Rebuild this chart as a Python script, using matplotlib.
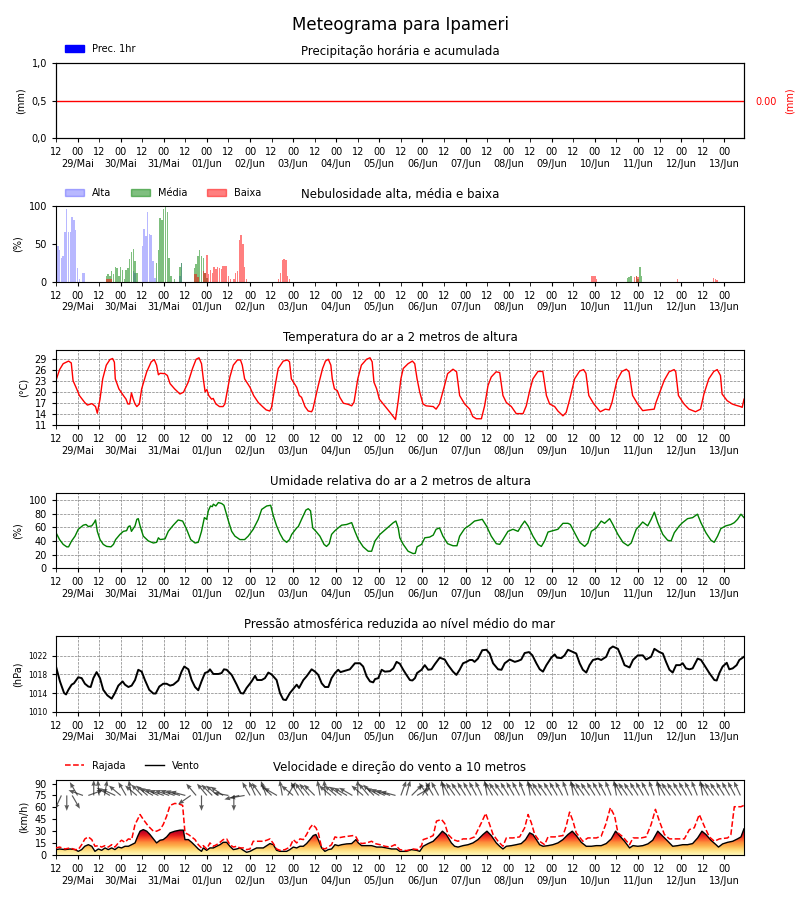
import numpy as np
import matplotlib.pyplot as plt
from matplotlib.patches import Patch
from matplotlib.lines import Line2D

# x axis is hours since 28/Mai 12 UTC (hourly model output, 384 steps)
hours = np.arange(384)
day_labels = ['29/Mai', '30/Mai', '31/Mai', '01/Jun', '02/Jun', '03/Jun', '04/Jun', '05/Jun',
              '06/Jun', '07/Jun', '08/Jun', '09/Jun', '10/Jun', '11/Jun', '12/Jun', '13/Jun']
tick_00 = [12 + 24 * i for i in range(16)]
tick_12 = [24 * i for i in range(16)]

# precipitation (no rain in the period)
prec_1h = np.zeros(len(hours))

# cloud cover (%)
alta_h = [1, 2, 3, 4, 5, 6, 7, 8, 9, 10, 11, 12, 13, 15, 16, 43, 44,
          48, 49, 50, 51, 52, 53, 54, 55, 69, 70]
alta_v = [47, 42, 31, 34, 66, 97, 66, 66, 86, 82, 69, 18, 4, 12, 11, 14, 12,
          47, 70, 60, 93, 63, 62, 28, 5, 8, 25]
media_h = [28, 29, 30, 31, 32, 33, 34, 35, 36, 37, 38, 39, 40, 41, 42, 43, 44, 45,
           56, 57, 58, 59, 60, 61, 62, 63, 64, 66, 69, 70,
           77, 78, 79, 80, 81, 82, 83, 84, 318, 319, 320, 323, 324, 325, 326]
media_v = [7, 10, 7, 14, 10, 20, 18, 7, 20, 15, 3, 16, 18, 30, 40, 44, 27, 12,
           25, 42, 84, 82, 97, 99, 93, 31, 7, 4, 20, 25,
           18, 23, 34, 42, 34, 31, 11, 5, 5, 6, 7, 7, 4, 20, 7]
baixa_h = [28, 29, 30, 31, 77, 78, 79, 82, 83, 84, 85, 86, 87, 88, 89, 90, 91, 92, 93, 94, 95,
           96, 97, 99, 100, 101, 102, 103, 104, 105, 106, 124, 125, 126, 127, 128, 129, 130,
           298, 299, 300, 301, 322, 323, 324, 346, 366, 367, 368]
baixa_v = [4, 4, 3, 4, 10, 10, 6, 14, 12, 36, 10, 16, 12, 20, 17, 20, 18, 17, 21, 21, 21,
           7, 3, 3, 11, 14, 55, 62, 50, 20, 3, 4, 11, 29, 30, 29, 7, 3,
           7, 8, 8, 3, 6, 7, 6, 3, 5, 4, 2]

# temperature (C)
temp_h = [0, 2, 4, 7, 8.5, 9.5, 11.5, 13, 16, 17.5, 20, 22, 23, 24.5, 26, 28, 30, 31.5, 32.5, 33,
          35, 37.5, 39, 40, 41, 42, 43, 44, 45, 46.4, 47.7, 50.5, 53, 54.7, 56, 57, 58, 60.6, 62,
          63.5, 66, 69, 71, 73.6, 76, 78, 79.6, 81, 82, 83, 84, 85, 86.6, 87.5, 89, 91, 93, 94,
          96.8, 98.7, 101, 102.7, 103.7, 105, 108, 110, 112.6, 115.4, 117, 119, 120, 122, 123.7,
          126.5, 128.8, 130, 131, 134, 135.4, 136.7, 138.6, 140.4, 142.3, 143, 146, 148.4, 150,
          151.6, 153, 153.8, 155, 156.6, 158, 160, 162.7, 164.6, 165.9, 168, 170, 172.9, 174.8,
          176, 177, 178.5, 180, 183, 186, 189, 190.5, 192, 193.3, 196, 198.4, 199.7, 201, 202.5,
          204.3, 206, 210, 211.6, 213.5, 216.3, 218, 221, 223, 224.7, 227.5, 230.3, 232, 234,
          236.8, 238.6, 240.5, 242.3, 245, 247, 248.8, 250.7, 253.5, 256.2, 260, 261.8, 263.7,
          265.5, 268.3, 271, 273, 274.8, 277.6, 279.4, 282.2, 284, 286, 288.7, 291.5, 293.7, 295,
          296.6, 299.4, 303, 305.8, 308, 309.5, 312.3, 315, 317.5, 319, 321, 323.8, 326.6, 329.4,
          333, 334, 338.6, 341.3, 344.1, 345, 346.5, 349.6, 352.4, 356, 358.8, 360.7, 363.4,
          366.2, 368.1, 369.9, 370.8, 373.6, 376.4, 378.2, 381, 382, 383]
temp_v = [23.1, 26.0, 27.6, 28.3, 27.8, 23.0, 20.8, 19.0, 17.1, 16.4, 16.8, 16.0, 14.2, 18.0, 23.5,
          27.2, 28.7, 29.0, 28.0, 23.5, 20.8, 19.0, 18.0, 16.7, 16.7, 19.7, 18.0, 16.7, 16.0, 16.7,
          20.8, 25.4, 28.1, 28.7, 27.2, 24.6, 25.0, 24.9, 24.4, 22.2, 20.8, 19.4, 19.9, 22.6, 26.3,
          28.8, 29.2, 27.6, 23.5, 20.0, 20.6, 19.0, 18.0, 18.2, 16.7, 16.0, 16.0, 16.7, 24.0, 27.2,
          28.6, 28.6, 27.2, 23.5, 21.2, 19.0, 17.1, 15.8, 15.1, 14.8, 15.8, 21.7, 26.3, 28.3, 28.6,
          28.1, 23.5, 21.2, 19.0, 18.5, 16.0, 14.8, 14.6, 15.3, 21.7, 26.3, 28.3, 28.8, 27.2, 23.5,
          20.8, 20.3, 18.5, 16.9, 16.6, 16.2, 17.2, 23.5, 27.2, 28.8, 29.2, 28.1, 22.6, 20.8, 18.0,
          16.2, 14.4, 12.5, 17.5, 23.5, 26.3, 27.6, 28.3, 27.6, 23.5, 19.9, 16.7, 16.2, 16.0, 15.3,
          16.7, 21.7, 24.9, 26.1, 25.4, 19.0, 16.7, 15.3, 13.3, 12.7, 12.7, 16.2, 21.7, 24.0, 25.4,
          25.2, 19.0, 17.1, 16.0, 14.1, 14.1, 16.2, 20.3, 23.5, 25.5, 25.5, 19.0, 16.7, 16.0, 14.8,
          13.5, 14.4, 18.0, 23.5, 25.6, 26.0, 25.0, 19.0, 16.7, 14.6, 15.3, 15.1, 17.1, 23.1, 25.5,
          26.1, 25.4, 19.0, 16.7, 14.9, 15.1, 15.3, 17.1, 23.1, 25.4, 26.0, 25.4, 19.0, 16.7, 15.3,
          14.6, 15.3, 19.4, 23.5, 25.5, 26.0, 24.4, 19.4, 17.6, 16.7, 16.4, 16.0, 15.8, 18.0]

# relative humidity (%)
rh_h = [0, 2, 4, 6, 7, 8.7, 10.6, 12.4, 15.2, 16.7, 18, 19.9, 21.3, 22, 23, 24.5, 26.3, 28.2, 30.6,
        32, 33.2, 35.6, 37.5, 39.3, 40.3, 41.2, 42, 43, 44, 45, 45.8, 46.8, 48.6, 51.4, 54.2, 56, 57,
        58, 60.7, 62.5, 65.3, 68, 70.5, 72.7, 75, 77.4, 79.2, 81, 82.6, 83.9, 84.8, 86, 87, 87.6, 89,
        90.4, 92.2, 93.5, 96, 97.8, 99.6, 102.4, 105, 107, 109.8, 112.6, 114.5, 117.3, 119.5, 121,
        122.8, 124.7, 126.5, 128.4, 130, 131.2, 134, 134.9, 136.7, 139.1, 140.4, 141.7, 142.9,
        144.7, 146.9, 149.2, 150.6, 152.1, 153.4, 155.3, 157.1, 159, 161.8, 164.6, 166.4, 168.3,
        171, 173.8, 175.7, 177.6, 180.3, 184, 187.8, 189.2, 190.5, 191.4, 193.3, 196, 198.8, 200,
        201, 203.5, 205.3, 208, 210, 211.6, 213.5, 215.4, 218, 221, 223.2, 224.7, 227.5, 230.3,
        233, 235.8, 237.3, 239.6, 242.3, 245.1, 247, 248.8, 251.6, 254.4, 257.2, 259, 260.9, 262.8,
        265.5, 268.3, 270.2, 272, 273.9, 276.6, 279.4, 282.2, 285, 286.3, 288.7, 291.5, 294.3,
        296.1, 298, 300.8, 303.5, 305.4, 308.2, 310, 312.8, 315.6, 318.4, 320.2, 323, 324.8, 326.6,
        329.4, 331.3, 333.1, 335, 337.8, 340.5, 342.4, 344.2, 347, 348.8, 351.6, 354.4, 357.1, 359,
        361.8, 364.6, 366.4, 368.3, 370.1, 372.9, 375.7, 377.6, 379.4, 381.3, 383]
rh_v = [52, 42, 35, 31.4, 31.4, 40, 47, 57, 63, 64, 61, 62, 67, 70.6, 54, 42, 35, 32, 31.4,
        35, 42, 49.5, 54, 55, 61, 62, 54, 58, 62, 71.5, 72.5, 62, 47, 40, 37, 38, 44.6,
        42, 43, 54, 63, 70.6, 69, 57, 42, 37, 38, 54, 74, 71.5, 84, 91, 90, 93.6, 91,
        96, 94.6, 92, 69, 54, 47, 42, 42, 47, 57, 71.5, 86, 91, 92, 76.5,
        62, 50.5, 42, 38, 42, 49.5, 59, 61, 71.5, 85, 87, 84, 59,
        54, 47, 35, 32, 36, 49.5, 55, 59, 63, 64, 66.7, 54, 42,
        31.4, 25, 25, 40, 49.5, 58, 66.7, 69, 59, 44.6, 35, 25, 21.6, 22,
        31.4, 35, 44.6, 45.6, 48.5, 57, 59, 47, 36, 33, 33, 47, 58, 63,
        69, 70.6, 71.5, 62, 47, 36, 35, 42, 54, 57, 54, 62, 69, 62,
        47, 35, 32, 40, 53, 55, 57, 65.7, 65.7, 64, 52, 38, 32,
        37, 54, 59, 69, 65.7, 72.5, 64, 49.5, 38, 33, 37, 57, 62, 67.6,
        62, 71.5, 82, 66.7, 49.5, 41, 40, 52, 62, 66.7, 72.5, 74, 79, 66.7,
        52, 41, 38, 47, 58, 62, 64, 66.7, 71.5, 79, 74]

# sea level pressure (hPa)
pres_h = [0, 2.2, 4.5, 5.6, 6.9, 8.7, 10, 12.4, 14.3, 16.1, 18, 19.3, 20.8, 22.6, 24.5, 26.3, 28.6,
          31, 32.8, 34.7, 37.1, 38.4, 40.3, 42.1, 44, 45.8, 47.7, 49.5, 51.9, 54.2, 55.5, 57.5,
          59.7, 61.6, 63.5, 65.3, 68.1, 69.9, 71.4, 73.7, 75.5, 77.4, 79.2, 81, 82.9, 84.8, 85.7,
          87.6, 90.4, 92.2, 93.5, 95, 97.8, 100.6, 102.8, 104.3, 106.1, 108.9, 110.8, 112, 114.5,
          116.3, 118.2, 120, 122.8, 124.7, 126.5, 128, 130.2, 132.1, 134, 135.3, 137.7, 139.5,
          142.3, 144.2, 146, 147.9, 149.7, 151.6, 153.4, 155.3, 157.1, 158.4, 160.9, 163.6, 166.4,
          169.2, 171, 172.9, 174.8, 176.6, 177.6, 179.4, 181.3, 183.1, 185.9, 187.8, 189.6, 191.4,
          193.3, 195.1, 197, 198.4, 199.8, 201, 203.5, 205.3, 207.2, 209, 210.9, 213.6, 216.4,
          218.3, 221, 222.9, 224.7, 226.6, 228.5, 230.3, 231.8, 233, 234.9, 237.3, 239.6, 241.4,
          243.3, 246.1, 248, 249.8, 252.6, 255.4, 257.2, 259, 260.9, 263.3, 265.2, 267.4, 269.3,
          271.1, 273, 275.7, 277.6, 278.9, 281.3, 283.1, 285, 287.8, 289.6, 291.5, 293.3, 295.2,
          297, 298.9, 301.7, 303.5, 306.3, 308.2, 310, 312.8, 314.7, 316.5, 319.3, 321.2, 323.9,
          326.7, 328.5, 331.3, 333.1, 335.9, 337.8, 339.6, 341.5, 343.3, 345.2, 347.4, 348.9,
          350.7, 352.6, 354.4, 357.2, 359.1, 360.9, 363.7, 366.5, 367.8, 369.3, 371.1, 373.4,
          374.8, 376.7, 378.9, 380.4, 383]
pres_v = [1019.7, 1016.5, 1014.0, 1013.7, 1014.7, 1015.8, 1016.1, 1017.4, 1017.2, 1016.0, 1015.4,
          1015.3, 1017.2, 1018.5, 1017.2, 1014.7, 1013.5, 1012.8, 1014.0, 1015.6, 1016.5, 1015.8,
          1015.3, 1015.6, 1016.8, 1019.0, 1018.6, 1016.8, 1014.7, 1013.9, 1013.9, 1015.4, 1016.0,
          1016.0, 1015.6, 1015.8, 1016.7, 1018.6, 1019.7, 1019.1, 1016.8, 1015.3, 1014.6, 1016.5,
          1018.3, 1018.6, 1019.1, 1018.1, 1018.1, 1018.3, 1019.1, 1019.0, 1017.9, 1015.8, 1014.0,
          1013.9, 1015.1, 1016.5, 1017.7, 1016.8, 1016.8, 1017.2, 1018.4, 1018.0, 1016.8, 1014.0,
          1012.6, 1012.5, 1014.0, 1014.9, 1015.8, 1015.1, 1016.8, 1017.6, 1019.1, 1018.6, 1017.9,
          1016.1, 1015.3, 1015.3, 1017.2, 1018.3, 1019.0, 1018.5, 1018.8, 1019.1, 1020.4, 1020.4,
          1019.7, 1017.6, 1016.5, 1016.3, 1017.0, 1017.2, 1019.0, 1018.6, 1018.7, 1019.3, 1020.7,
          1020.3, 1019.0, 1017.9, 1016.8, 1016.7, 1017.2, 1018.3, 1019.0, 1020.0, 1019.0, 1019.1,
          1020.2, 1021.6, 1021.2, 1020.0, 1018.6, 1017.9, 1019.0, 1020.4, 1020.7, 1021.1, 1021.1,
          1020.7, 1021.4, 1023.2, 1023.3, 1022.5, 1020.4, 1019.1, 1019.0, 1020.4, 1021.2, 1020.7,
          1020.9, 1021.2, 1022.6, 1022.8, 1022.1, 1020.4, 1019.1, 1018.6, 1020.0, 1021.6, 1022.3,
          1021.6, 1021.5, 1022.1, 1023.3, 1022.8, 1022.5, 1020.4, 1019.0, 1018.4, 1020.0, 1021.1,
          1021.4, 1021.1, 1021.8, 1023.5, 1024.0, 1023.5, 1021.8, 1020.0, 1019.5, 1021.1, 1022.1,
          1022.1, 1021.2, 1021.8, 1023.5, 1022.8, 1022.5, 1020.7, 1019.0, 1018.4, 1020.0, 1020.0,
          1020.4, 1019.3, 1019.1, 1019.3, 1021.4, 1021.1, 1020.0, 1018.3, 1016.8, 1016.7, 1018.3,
          1019.7, 1020.5, 1019.1, 1019.3, 1020.0, 1021.1, 1021.8]

# wind and gust (km/h)
wind_h = [0, 2, 5, 7.8, 10.6, 12.4, 14.3, 16, 18, 19.9, 21.7, 23.6, 25.4, 27.3, 29.1, 31, 32.8, 34.7,
          36.5, 38.4, 40.3, 42.1, 44, 45.5, 46.8, 48.6, 50.5, 52.3, 54.2, 56, 57.9, 59.7, 61.6, 63.5,
          66.2, 69, 70.9, 71.8, 73.7, 75.5, 77.4, 79.2, 81, 82, 83.9, 85.7, 87.6, 89.4, 91.3, 93.1,
          95, 96.8, 98.7, 100.6, 102.4, 104.3, 106.1, 108, 109.8, 111.7, 113.5, 115.4, 117.3, 119.1,
          121, 122.8, 124.7, 126.5, 128.4, 130.2, 132.1, 134, 135.8, 137.7, 139.5, 141.4, 143.2,
          144.7, 146, 147.9, 149.7, 151.6, 153.4, 155.3, 157.1, 159, 161.8, 164.6, 167, 168.3,
          170.1, 172.9, 175.7, 178.5, 181.3, 184, 186.8, 189.6, 191.4, 195.1, 197.9, 200.7, 202.5,
          204.4, 207.2, 210, 212.7, 215.1, 217.3, 220.1, 221.9, 223.8, 226.6, 229.4, 232.1, 234.9,
          237.7, 239.9, 242.3, 245.1, 247, 248.8, 250.7, 253.5, 256.2, 259, 261.4, 263.7, 265.5,
          267.4, 269.2, 271.1, 273.9, 276.6, 279.4, 282.2, 285, 287.4, 289.6, 292.4, 295.2, 298,
          300.8, 303.5, 306.3, 309.1, 311.5, 313.7, 316.5, 319.3, 321.2, 323.9, 326.7, 329.5,
          332.2, 335, 337.8, 340.6, 343.3, 346.1, 348.9, 351.6, 354.4, 357.2, 359.6, 361.8, 364.6,
          367.4, 368.8, 371.1, 373.9, 376.7, 379.4, 381.3, 383]
wind_v = [6.8, 7.6, 6.8, 7.6, 6.8, 4.6, 6.8, 11, 13, 11, 4.6, 7.6, 5.9, 8.9, 6.8, 8.9, 6.8, 10,
          8.9, 11, 11, 13, 15.2, 23.7, 30, 32, 30, 25.8, 20.3, 15.2, 18.6, 19.4, 22.8, 27.9,
          30, 31.3, 31.3, 19.4, 19.4, 16, 11.8, 7.6, 4.6, 8.9, 5.9, 8.9, 8.9, 11, 13, 16,
          16, 11, 6.8, 7.6, 8.9, 5.9, 3.4, 4.6, 6.8, 8.9, 8.9, 8.9, 11.8, 14.4,
          13, 5.9, 4.6, 4.6, 4.6, 6.8, 10, 8.9, 11, 11, 14.4, 19.4, 24.5,
          25.8, 19.4, 8.9, 4.6, 6.8, 7.6, 13, 11.8, 13, 14, 14.4, 19.4, 15.2,
          11.8, 11.8, 11.8, 10, 10, 8.9, 7.6, 7.6, 4.6, 4.6, 6.8, 5.9, 4.6,
          11, 14.4, 17.3, 23.7, 30, 25.8, 15.2, 11, 10, 11.8, 13, 15.2, 19.4,
          25.8, 30, 24.5, 15.2, 11, 7.6, 11, 11.8, 13, 14.4, 19.4, 27.9, 25.8,
          19.4, 13, 11, 11.8, 13, 15.2, 19.4, 25.8, 30, 24.5, 16, 11, 11,
          11.8, 11.8, 14.4, 20.3, 30, 24.5, 17.3, 8.9, 11.8, 11, 11.8, 14,
          18.6, 30, 23.7, 17.3, 11, 11.8, 13, 13, 14.4, 21.5, 30, 25.8, 18.6,
          13, 10, 14, 16, 17.3, 20.3, 22.8, 33]
gust_h = [0, 2, 5, 7.8, 10.6, 12.4, 14.3, 16.1, 18, 19.9, 21.7, 23.6, 25.4, 27.3, 29.1, 31, 32.8,
          34.7, 36.5, 38.4, 40.3, 42.1, 44, 46.8, 48.6, 51.4, 54.2, 56, 57.9, 59.7, 61.6, 63.5,
          66.2, 69, 70.5, 71.8, 73.7, 75.5, 77.4, 79.2, 81, 82, 83.9, 85.7, 87.6, 89.4, 91.3, 93.1,
          95, 96.8, 98.7, 100.6, 102.4, 104.3, 106.1, 108, 109.8, 112.6, 115.4, 117.3, 119.1, 121,
          122.8, 124.7, 127.5, 130.2, 132.1, 134, 135.8, 137.7, 139.5, 141.4, 142.9, 144.7, 146,
          147.9, 149.7, 151.6, 153.4, 155.3, 157.1, 159.9, 162.7, 165.5, 167, 168.3, 170.1, 172.9,
          175.7, 177.6, 180.3, 183.1, 185.9, 188.7, 191.4, 195, 198.8, 201.3, 203.5, 204.4, 207.2,
          210, 211.8, 214.6, 216.4, 218.3, 221, 223.8, 226.6, 230.3, 233, 236.8, 239.2, 241.4,
          243.3, 246.1, 248.8, 250.7, 254.4, 258.1, 260.9, 262.8, 264.6, 266.5, 269.2, 272, 273.9,
          277.6, 282.2, 284, 285.9, 287.8, 289.6, 293.3, 296.1, 300.8, 303.5, 306, 308.6, 311,
          312.8, 315.6, 319.3, 321.2, 325.8, 328.5, 331.3, 333.7, 335.9, 338.7, 341.5, 344.2,
          349.8, 352.6, 355.3, 358.1, 360.9, 363.7, 366.5, 369.3, 373.9, 375.7, 377.6, 381.3, 383]
gust_v = [8.9, 10, 7.6, 8.9, 6.8, 6.8, 13, 20.3, 22.8, 19.4, 11, 11.8, 10, 11.8, 10, 13, 10,
          15.2, 18.6, 16, 20.3, 19.4, 38.4, 51, 44.8, 36.3, 30, 30, 32, 38.4, 49, 62.5,
          65, 63.8, 62.5, 27.9, 25.8, 22.8, 19.4, 13, 8.9, 11.8, 7.6, 15.2, 11, 13, 16, 19.4,
          20.3, 13, 10, 11, 8.9, 8.9, 6.8, 7.6, 17.3, 17.3, 17.3, 18.6, 20.3, 14.4,
          7.6, 5.9, 6.8, 10, 19.4, 15.2, 20.3, 19.4, 25.8, 34.2, 38.4, 34.2, 27.9,
          8.9, 7.6, 10, 13, 22.8, 21.5, 22.8, 23.7, 24.5, 22.8, 17.3, 14.4, 15.2,
          17.3, 14.4, 13, 11, 10, 13, 6.8, 5.5, 7.6, 6.8, 11.8, 19.4, 21.5,
          24.5, 42.7, 44.8, 39.7, 25.8, 19.4, 17.3, 20.3, 20.3, 22.8, 40.6, 52.4, 38.4,
          25.8, 17.3, 11, 21.5, 21.5, 22.8, 34.2, 51, 40.6, 25.8, 17.3, 13, 22.8,
          22.8, 24.5, 36.3, 54, 42.7, 27.9, 17.3, 21.5, 21.5, 23.7, 38.4, 59.6, 49,
          27.9, 22.8, 13, 21.5, 21.5, 22.8, 38.4, 57.5, 42.7, 25.8, 20.3, 20.3,
          20.3, 32, 34.2, 51, 36.3, 22.8, 17.3, 20.3, 21.5, 25.8, 60.8, 60.8, 62.5]

# wind direction arrows every 3 h (direction the arrow points, degrees from east)
arrow_h = np.arange(0, 384, 3)
arrow_ang = [240, 245, 270, 300, 120, 160, 20, 90, 95, 80,
             150, 155, 140, 120, 100, 140, 135, 140, 150, 155,
             160, 160, 160, 162, 165, 215, 130, 270, 130, 135,
             140, 145, 170, 270, 195, 190, 120, 115, 125, 110,
             135, 150, 100, 60, 140, 120, 125, 130, 135, 100,
             95, 140, 140, 145, 150, 150, 90, 140, 130, 135,
             150, 155, 160, 165,
             70, 75, 45, 30, 60, 125, 120, 118, 100, 120,
             125, 125, 122, 120, 118, 115, 100, 120, 125, 125,
             122, 120, 118, 112, 100, 120, 125, 125, 122, 120,
             118, 110, 100, 120, 125, 125, 122, 120, 118, 112,
             100, 120, 125, 125, 122, 120, 118, 110, 100, 120,
             125, 125, 122, 120, 118, 112, 100, 120, 125, 125,
             122, 120, 118, 115]

fig, axes = plt.subplots(6, 1, figsize=(8, 9), dpi=100)
plt.subplots_adjust(left=0.07, right=0.93, top=0.93, bottom=0.05, hspace=0.9)
fig.suptitle('Meteograma para Ipameri', fontsize=12, y=0.982)

for ax in axes:
    ax.set_xlim(0, 383)
    ax.set_xticks(tick_00)
    ax.set_xticklabels(['00\n' + d for d in day_labels])
    ax.set_xticks(tick_12, minor=True)
    ax.set_xticklabels(['12'] * len(tick_12), minor=True)
    ax.tick_params(axis='x', which='both', labelsize=7, length=3)
    ax.tick_params(axis='y', labelsize=7, length=3)


def add_grid(ax):
    ax.grid(True, which='major', linestyle='--', color='gray', linewidth=0.5)
    ax.xaxis.grid(True, which='minor', linestyle='--', color='gray', linewidth=0.5)


# 1 - precipitation
ax = axes[0]
ax.bar(hours, prec_1h, width=0.8, color='blue')
ax.set_ylim(0, 1)
ax.set_yticks([0, 0.5, 1])
ax.set_yticklabels(['0,0', '0,5', '1,0'])
ax.set_ylabel('(mm)', fontsize=7)
ax.set_title('Precipitação horária e acumulada', fontsize=8.5)
ax.legend(handles=[Patch(color='blue', label='Prec. 1hr')], loc='lower left',
          bbox_to_anchor=(0, 1), frameon=False, fontsize=7)
ax2 = ax.twinx()
ax2.plot(hours, np.cumsum(prec_1h), color='red', lw=1)
ax2.set_ylim(-1, 1)
ax2.set_yticks([0])
ax2.set_yticklabels(['0.00'])
ax2.tick_params(axis='y', length=0, pad=8, labelsize=7, labelcolor='red')
ax2.set_ylabel('(mm)', color='red', fontsize=7, labelpad=6)

# 2 - clouds
ax = axes[1]
ax.bar(alta_h, alta_v, width=0.8, color='blue', alpha=0.28)
ax.bar(media_h, media_v, width=0.8, color='green', alpha=0.5)
ax.bar(baixa_h, baixa_v, width=0.8, color='red', alpha=0.5)
ax.set_ylim(0, 100)
ax.set_yticks([0, 50, 100])
ax.set_ylabel('(%)', fontsize=7)
ax.set_title('Nebulosidade alta, média e baixa', fontsize=8.5)
ax.legend(handles=[Patch(color='blue', alpha=0.28, label='Alta'),
                   Patch(color='green', alpha=0.5, label='Média'),
                   Patch(color='red', alpha=0.5, label='Baixa')],
          loc='lower left', bbox_to_anchor=(0, 1), frameon=False, fontsize=7, ncol=3)

# 3 - temperature
ax = axes[2]
ax.plot(temp_h, temp_v, color='red', lw=1.0)
ax.set_ylim(11, 31.4)
ax.set_yticks(range(11, 30, 3))
ax.set_ylabel('(°C)', fontsize=7)
ax.set_title('Temperatura do ar a 2 metros de altura', fontsize=8.5)
add_grid(ax)

# 4 - relative humidity
ax = axes[3]
ax.plot(rh_h, rh_v, color='green', lw=1.0)
ax.set_ylim(0, 110)
ax.set_yticks(range(0, 101, 20))
ax.set_ylabel('(%)', fontsize=7)
ax.set_title('Umidade relativa do ar a 2 metros de altura', fontsize=8.5)
add_grid(ax)

# 5 - pressure
ax = axes[4]
ax.plot(pres_h, pres_v, color='black', lw=1.4)
ax.set_ylim(1010, 1026.2)
ax.set_yticks([1010, 1014, 1018, 1022])
ax.tick_params(axis='y', labelsize=5.5)
ax.set_ylabel('(hPa)', fontsize=7)
ax.set_title('Pressão atmosférica reduzida ao nível médio do mar', fontsize=8.5)
add_grid(ax)

# 6 - wind
ax = axes[5]
fill = ax.fill_between(wind_h, 0, wind_v, color='none')
grad = np.linspace(0, 1, 256).reshape(-1, 1)
im = ax.imshow(grad, extent=[0, 383, 0, max(wind_v)], origin='lower', aspect='auto',
               cmap='YlOrRd', vmin=-0.05, vmax=1.0, zorder=1)
im.set_clip_path(fill.get_paths()[0], transform=ax.transData)
ax.plot(wind_h, wind_v, color='black', lw=1, zorder=3)
ax.plot(gust_h, gust_v, color='red', ls='--', lw=1.1, zorder=3)
ang = np.deg2rad(arrow_ang)
ax.quiver(arrow_h, np.full(len(arrow_h), 75.0), np.cos(ang), np.sin(ang), pivot='tail',
          scale_units='inches', scale=6.5, width=0.0017, headwidth=4, headlength=5,
          color='#222222', alpha=0.75, zorder=4)
ax.set_xlim(0, 383)
ax.set_ylim(0, 95)
ax.set_yticks(range(0, 91, 15))
ax.set_ylabel('(km/h)', fontsize=7)
ax.set_title('Velocidade e direção do vento a 10 metros', fontsize=8.5)
ax.legend(handles=[Line2D([], [], color='red', ls='--', lw=1.1, label='Rajada'),
                   Line2D([], [], color='black', lw=1, label='Vento')],
          loc='lower left', bbox_to_anchor=(0, 1), frameon=False, fontsize=7, ncol=2)

plt.savefig('out.png', dpi=100)
